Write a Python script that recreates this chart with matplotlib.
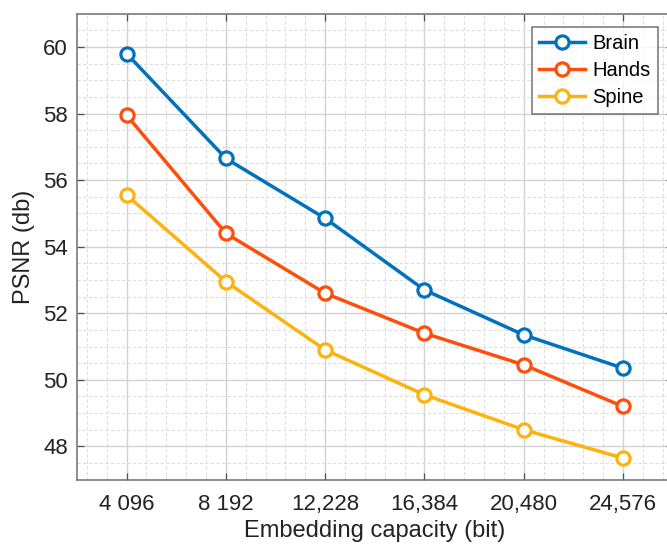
import matplotlib
matplotlib.use("Agg")
import matplotlib.pyplot as plt
from matplotlib.ticker import MultipleLocator

capacity_labels = ["4 096", "8 192", "12,228", "16,384", "20,480", "24,576"]
brain = [59.8, 56.65, 54.85, 52.7, 51.35, 50.35]
hands = [57.95, 54.4, 52.6, 51.4, 50.45, 49.2]
spine = [55.55, 52.95, 50.9, 49.55, 48.5, 47.65]
series_names = ["Brain", "Hands", "Spine"]
colors = ["#0072BD", "#FF4E0C", "#FFB20D"]

plt.rcParams['font.family'] = ['Liberation Sans', 'DejaVu Sans']

fig = plt.figure(figsize=(6.67, 5.51), dpi=100)
ax = fig.add_axes([77/667, (551-479.7)/551, (672.7-77)/667, (479.7-13.7)/551])

x = list(range(1, len(capacity_labels) + 1))
for vals, name, c in zip([brain, hands, spine], series_names, colors):
    ax.plot(x, vals, color=c, lw=2.5, marker='o', markersize=9.5,
            markerfacecolor='white', markeredgecolor=c, markeredgewidth=2.3,
            label=name, zorder=3)

ax.set_xlim(0.5, 6.5)
ax.set_ylim(47, 61)
ax.set_xticks(x)
ax.set_xticklabels(capacity_labels)
ax.set_yticks([48, 50, 52, 54, 56, 58, 60])
ax.xaxis.set_minor_locator(MultipleLocator(0.2))
ax.yaxis.set_minor_locator(MultipleLocator(0.5))

ax.grid(True, which='major', color='#D2D2D2', lw=1.0, zorder=0)
ax.grid(True, which='minor', color='#DEDEDE', lw=0.8, ls=(0, (3, 2)), zorder=0)
ax.set_axisbelow(True)

ax.tick_params(which='major', direction='in', length=5, width=0.9, color='#505050',
               labelsize=16, labelcolor='#222222', top=True, right=True)
ax.tick_params(axis='x', which='major', pad=10)
ax.tick_params(axis='y', which='major', pad=6.5)
ax.tick_params(which='minor', length=0, top=True, right=True)
for s in ax.spines.values():
    s.set_color('#707070')
    s.set_linewidth(1.1)

ax.set_xlabel("Embedding capacity (bit)", fontsize=17, color='#222222', labelpad=4)
ax.set_ylabel("PSNR (db)", fontsize=17, color='#222222', labelpad=6)

leg = ax.legend(loc='upper right', bbox_to_anchor=((657.7-77)/(672.7-77), (479.7-27.3)/466),
                fontsize=14.5, frameon=True, fancybox=False, edgecolor='#505050',
                handlelength=2.3, borderpad=0.35, labelspacing=0.38, handletextpad=0.35,
                borderaxespad=0)
leg.get_frame().set_linewidth(1.1)

fig.savefig("out.png", dpi=100)
